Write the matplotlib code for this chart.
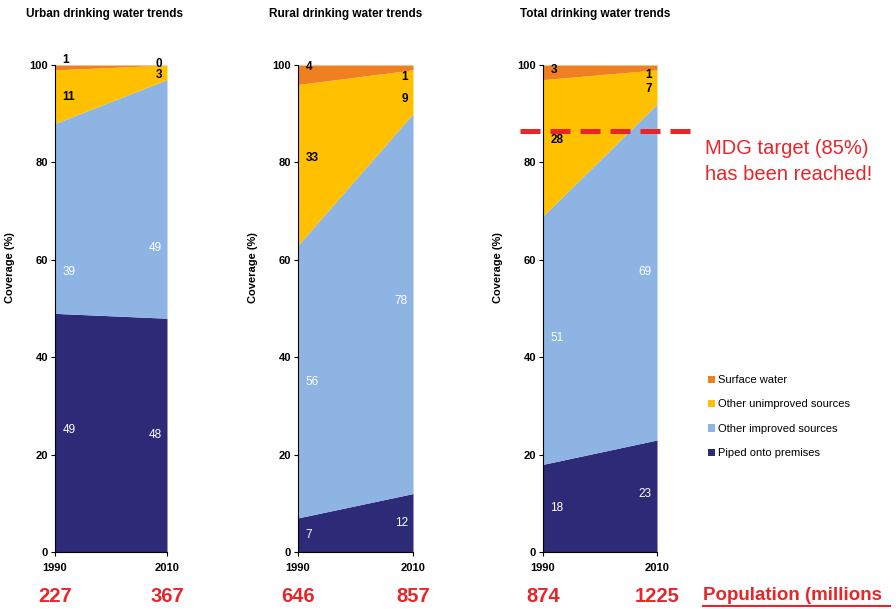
import matplotlib
matplotlib.use("Agg")
import matplotlib.pyplot as plt
from matplotlib.patches import Patch

# Data (coverage %, bottom to top)
years = [1990, 2010]
categories = ["Piped onto premises", "Other improved sources",
              "Other unimproved sources", "Surface water"]
urban = {"Piped onto premises": [49, 48], "Other improved sources": [39, 49],
         "Other unimproved sources": [11, 3], "Surface water": [1, 0]}
rural = {"Piped onto premises": [7, 12], "Other improved sources": [56, 78],
         "Other unimproved sources": [33, 9], "Surface water": [4, 1]}
total = {"Piped onto premises": [18, 23], "Other improved sources": [51, 69],
         "Other unimproved sources": [28, 7], "Surface water": [3, 1]}
population = [[227, 367], [646, 857], [874, 1225]]
titles = ["Urban drinking water trends", "Rural drinking water trends",
          "Total drinking water trends"]
mdg_line = 86.5

COLORS = {"Piped onto premises": "#2d2a78", "Other improved sources": "#8db4e2",
          "Other unimproved sources": "#ffc000", "Surface water": "#ee8021"}
LABEL_COL = {"Piped onto premises": "white", "Other improved sources": "white",
             "Other unimproved sources": "black", "Surface water": "black"}
RED = "#e8262a"

# label y-positions as drawn in the original (layout only)
label_y = [
    {"Piped onto premises": [25, 24], "Other improved sources": [57.5, 62.5],
     "Other unimproved sources": [93.5, 98], "Surface water": [101, 100.3]},
    {"Piped onto premises": [3.5, 6], "Other improved sources": [35, 51.5],
     "Other unimproved sources": [81, 93], "Surface water": [99.5, 97.5]},
    {"Piped onto premises": [9, 12], "Other improved sources": [44, 57.5],
     "Other unimproved sources": [84.5, 95], "Surface water": [99, 98]},
]

plt.rcParams["font.family"] = ["Liberation Sans", "DejaVu Sans"]
fig = plt.figure(figsize=(8.96, 6.09), dpi=100)
fig.patch.set_facecolor("white")

lefts = [55 / 896, 298 / 896, 543 / 896]
widths = [112 / 896, 115 / 896, 114 / 896]
bottom, height = 57 / 609, 487 / 609
title_x = [26 / 896, 269 / 896, 520 / 896]

for i, data in enumerate([urban, rural, total]):
    ax = fig.add_axes([lefts[i], bottom, widths[i], height])
    base = [0, 0]
    for cat in categories:
        top = [b + v for b, v in zip(base, data[cat])]
        ax.fill_between(years, base, top, color=COLORS[cat], lw=0)
        for j in range(2):
            dx = 1.3 if j == 0 else -0.9
            ha = "left" if j == 0 else "right"
            ax.text(years[j] + dx, label_y[i][cat][j], str(data[cat][j]),
                    color=LABEL_COL[cat], fontsize=8.5,
                    fontweight="bold" if LABEL_COL[cat] == "black" else "normal",
                    ha=ha, va="center", clip_on=False)
        base = top
    ax.set_xlim(years)
    ax.set_ylim(0, 100)
    ax.set_xticks(years)
    ax.set_yticks(range(0, 101, 20))
    ax.tick_params(labelsize=8, length=3, pad=2)
    for lab in ax.get_xticklabels() + ax.get_yticklabels():
        lab.set_fontweight("bold")
    ax.tick_params(axis="x", pad=5)
    ax.spines["top"].set_visible(False)
    ax.spines["right"].set_visible(False)
    ax.set_ylabel("Coverage (%)", fontsize=8, fontweight="bold")
    ax.yaxis.set_label_coords(-40 / (widths[i] * 896), 0.585)
    fig.text(title_x[i], 1 - 14 / 609, titles[i], fontsize=8.5,
             fontweight="bold", ha="left", va="center")
    # population numbers
    for j in range(2):
        fx = lefts[i] + (0 if j == 0 else widths[i])
        fig.text(fx, 1 - 596 / 609, str(population[i][j]), color=RED,
                 fontsize=14.5, fontweight="bold", ha="center", va="center")
    if i == 2:
        ax.plot([1986, 2016.5], [mdg_line, mdg_line], color=RED, lw=3.6,
                ls=(0, (4, 2)), clip_on=False, zorder=5)

fig.text(705 / 896, 1 - 148 / 609, "MDG target (85%)", color=RED,
         fontsize=14.5, ha="left", va="center")
fig.text(705 / 896, 1 - 175 / 609, "has been reached!", color=RED,
         fontsize=14.5, ha="left", va="center")
fig.text(703 / 896, 1 - 596 / 609, "Population (millions", color=RED,
         fontsize=13.5, fontweight="bold", ha="left", va="center")
fig.add_artist(plt.Line2D([703 / 896, 890 / 896], [1 - 606 / 609, 1 - 606 / 609],
                          color=RED, lw=1.5))

handles = [Patch(facecolor=COLORS[c], label=c) for c in reversed(categories)]
fig.legend(handles=handles, loc="upper left",
           bbox_to_anchor=(698 / 896, 1 - 365 / 609), frameon=False,
           fontsize=8, handlelength=0.6, handleheight=0.6, handletextpad=0.3,
           labelspacing=1.3)

fig.savefig("out.png", dpi=100, facecolor="white")
